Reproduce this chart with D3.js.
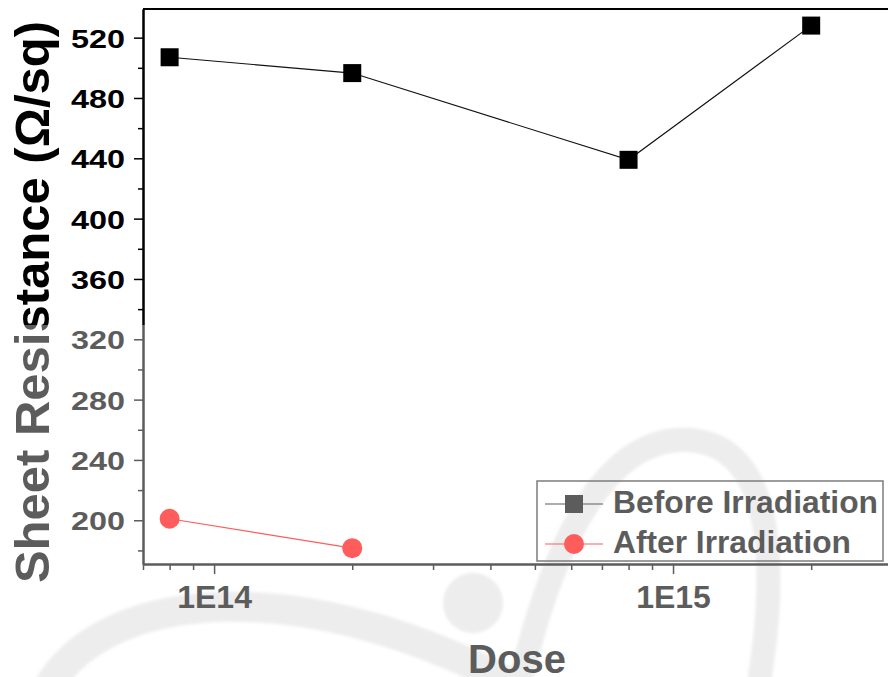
<!DOCTYPE html>
<meta charset="utf-8">
<script src="https://d3js.org/d3.v7.min.js"></script>
<style>
  body { margin: 0; background: #fff; }
  text { font-family: "Liberation Sans", Arial, sans-serif; font-weight: bold; }
</style>

<div id="sheet_res"></div>

<script>

// data
var beforeDose = [8e13, 2e14, 8e14, 2e15]
var beforeRes = [507, 496.5, 439, 528]
var afterDose = [8e13, 2e14]
var afterRes = [201, 181.5]

var yMajor = [200, 240, 280, 320, 360, 400, 440, 480, 520]
var yMinor = [180, 220, 260, 300, 340, 380, 420, 460, 500]
var xMajor = [1e14, 1e15]
var xMajorLabels = ["1E14", "1E15"]
var xMinor = [7e13, 8e13, 9e13, 2e14, 3e14, 4e14, 5e14, 6e14, 7e14, 8e14, 9e14, 2e15]

var seriesNames = ["Before Irradiation", "After Irradiation"]

var w = 888
var h = 677

var margin = {top: 9, right: -4, bottom: 113, left: 143},
    innerWidth = w - margin.left - margin.right,
    innerHeight = h - margin.top - margin.bottom;

var svg = d3.select("#sheet_res")
  .append("svg")
    .attr("width", w)
    .attr("height", h)

svg.append("defs").append("filter")
    .attr("id", "soft")
  .append("feGaussianBlur")
    .attr("stdDeviation", 1.5)

//// faint watermark behind the plot
var wm = svg.append("g")
  .attr("filter", "url(#soft)")
  .style("fill", "none")
  .style("stroke", "#e3e3e3")

wm.append("path")
  .attr("d", "M 40,705 C 85,585 310,565 540,700")
  .attr("stroke-width", 30)
wm.append("path")
  .attr("d", "M 515,705 C 555,520 615,435 690,440 C 772,446 782,560 755,705")
  .attr("stroke-width", 24)
wm.append("circle")
  .attr("cx", 473).attr("cy", 603).attr("r", 30)
  .style("fill", "#e3e3e3").style("stroke", "none")

////
var xScale = d3.scaleLog()
  .domain([7e13, 3e15])
  .range([0, innerWidth])

var yScale = d3.scaleLinear()
  .domain([171, 539])
  .range([innerHeight, 0])

var plot = svg.append("g")
  .attr("transform", `translate(${margin.left},${margin.top})`)

// x axis
plot.append("g")
  .attr("class", "xminor")
  .attr("transform", `translate(0,${innerHeight})`)
  .call(d3.axisBottom(xScale).tickValues(xMinor).tickSize(6).tickSizeOuter(0).tickFormat(""))

var xaxis = plot.append("g")
  .attr("class", "xaxis")
  .attr("transform", `translate(0,${innerHeight})`)
  .call(d3.axisBottom(xScale).tickValues(xMajor).tickSize(10).tickSizeOuter(0)
        .tickFormat((d, i) => xMajorLabels[i]))

xaxis.selectAll("text")
  .attr("y", 44)
  .attr("dy", 0)
  .attr("font-size", "32px")
  .attr("fill", "#000")

// y axis
plot.append("g")
  .attr("class", "yminor")
  .call(d3.axisLeft(yScale).tickValues(yMinor).tickSize(5).tickSizeOuter(0).tickFormat(""))

var yaxis = plot.append("g")
  .attr("class", "yaxis")
  .call(d3.axisLeft(yScale).tickValues(yMajor).tickSize(9).tickPadding(9).tickSizeOuter(0))

yaxis.selectAll("text")
  .attr("dy", "0.36em")
  .attr("font-size", "26.5px")
  .attr("textLength", 54)
  .attr("lengthAdjust", "spacingAndGlyphs")
  .attr("fill", "#000")

plot.selectAll(".domain").attr("stroke-width", 2)
plot.selectAll(".tick line").attr("stroke-width", 1.5)

// top frame
plot.append("line")
  .attr("x1", 0).attr("x2", innerWidth)
  .attr("y1", 0).attr("y2", 0)
  .attr("stroke", "#000")
  .attr("stroke-width", 2)

//// series
var before = beforeDose.map((d, i) => ({x: d, y: beforeRes[i]}))
var after = afterDose.map((d, i) => ({x: d, y: afterRes[i]}))

var line = d3.line().x(d => xScale(d.x)).y(d => yScale(d.y))

plot.append("path")
  .datum(before)
  .attr("d", line)
  .attr("fill", "none")
  .attr("stroke", "#111")
  .attr("stroke-width", 1.1)

plot.append("path")
  .datum(after)
  .attr("d", line)
  .attr("fill", "none")
  .attr("stroke", "#ff0000")
  .attr("stroke-width", 1.1)

plot.selectAll("rect.pt")
  .data(before)
  .enter()
  .append("rect")
    .attr("class", "pt")
    .attr("x", d => xScale(d.x) - 9)
    .attr("y", d => yScale(d.y) - 9)
    .attr("width", 18)
    .attr("height", 18)
    .attr("fill", "#000")

plot.selectAll("circle.pt")
  .data(after)
  .enter()
  .append("circle")
    .attr("class", "pt")
    .attr("cx", d => xScale(d.x))
    .attr("cy", d => yScale(d.y))
    .attr("r", 10)
    .attr("fill", "#ff0000")

//// labels
svg.append("text")
  .attr("text-anchor", "middle")
  .attr("transform", "translate(49,302) rotate(-90)")
  .attr("font-size", "49px")
  .attr("fill", "#000")
  .text("Sheet Resistance (\u03A9/sq)")

svg.append("text")
  .attr("text-anchor", "middle")
  .attr("x", 517)
  .attr("y", 673)
  .attr("font-size", "40px")
  .attr("fill", "#000")
  .text("Dose")

//// legend
var legend = svg.append("g")
  .attr("transform", "translate(537,481)")

legend.append("rect")
  .attr("width", 346)
  .attr("height", 80)
  .attr("fill", "none")
  .attr("stroke", "#333")
  .attr("stroke-width", 1.5)

var colors = ["#000", "#ff0000"]
var legendWidths = [265, 238]

seriesNames.forEach(function(name, i) {
  var cy = 23 + i * 40
  legend.append("line")
    .attr("x1", 8).attr("x2", 66)
    .attr("y1", cy).attr("y2", cy)
    .attr("stroke", colors[i])
    .attr("stroke-width", 1.1)
  if (i == 0) {
    legend.append("rect")
      .attr("x", 37 - 9).attr("y", cy - 9)
      .attr("width", 18).attr("height", 18)
      .attr("fill", colors[i])
  } else {
    legend.append("circle")
      .attr("cx", 37).attr("cy", cy).attr("r", 10)
      .attr("fill", colors[i])
  }
  legend.append("text")
    .attr("x", 76)
    .attr("y", cy + 8.5)
    .attr("font-size", "31px")
    .attr("textLength", legendWidths[i])
    .attr("lengthAdjust", "spacingAndGlyphs")
    .attr("fill", "#000")
    .text(name)
})

//// the lower part of the original figure is washed out
svg.append("rect")
  .attr("x", 0)
  .attr("y", 325)
  .attr("width", w)
  .attr("height", h - 325)
  .attr("fill", "#fff")
  .attr("opacity", 0.36)

</script>
